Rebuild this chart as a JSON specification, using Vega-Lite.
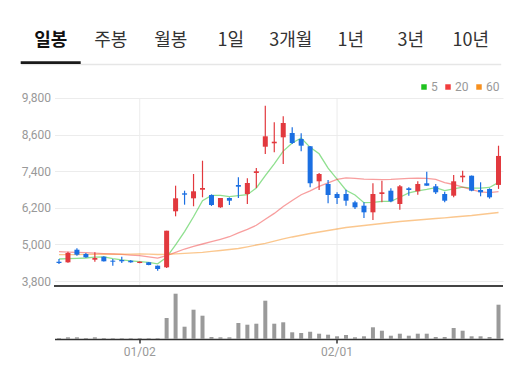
{
  "$schema": "https://vega.github.io/schema/vega-lite/v6.json",
  "background": "white",
  "padding": {"left": 20.5, "top": 20, "right": 0, "bottom": 0},
  "config": {
    "view": {"stroke": null},
    "font": "Roboto",
    "concat": {"spacing": 27}
  },
  "datasets": {
    "tabs": [
      {"tab": "일봉"}, {"tab": "주봉"}, {"tab": "월봉"}, {"tab": "1일"},
      {"tab": "3개월"}, {"tab": "1년"}, {"tab": "3년"}, {"tab": "10년"}
    ],
    "ohlc": [
      {"d":"12/15","o":4432,"h":4521,"l":4357,"c":4390,"v":100000,"ma5":4521,"ma20":4761,"ma60":4662},
      {"d":"12/18","o":4413,"h":4760,"l":4400,"c":4718,"v":170000,"ma5":4532,"ma20":4750,"ma60":4665},
      {"d":"12/19","o":4826,"h":4870,"l":4630,"c":4662,"v":170000,"ma5":4545,"ma20":4740,"ma60":4668},
      {"d":"12/20","o":4685,"h":4720,"l":4560,"c":4577,"v":100000,"ma5":4554,"ma20":4728,"ma60":4670},
      {"d":"12/21","o":4498,"h":4741,"l":4433,"c":4554,"v":170000,"ma5":4580,"ma20":4715,"ma60":4675},
      {"d":"12/22","o":4597,"h":4610,"l":4440,"c":4446,"v":100000,"ma5":4591,"ma20":4700,"ma60":4677},
      {"d":"12/26","o":4466,"h":4521,"l":4302,"c":4433,"v":80000,"ma5":4534,"ma20":4685,"ma60":4680},
      {"d":"12/27","o":4488,"h":4597,"l":4390,"c":4446,"v":80000,"ma5":4491,"ma20":4670,"ma60":4682},
      {"d":"12/28","o":4466,"h":4490,"l":4400,"c":4413,"v":80000,"ma5":4458,"ma20":4650,"ma60":4684},
      {"d":"01/02","o":4390,"h":4440,"l":4380,"c":4433,"v":100000,"ma5":4434,"ma20":4630,"ma60":4685},
      {"d":"01/03","o":4413,"h":4420,"l":4320,"c":4325,"v":80000,"ma5":4410,"ma20":4590,"ma60":4680},
      {"d":"01/04","o":4302,"h":4310,"l":4138,"c":4193,"v":80000,"ma5":4362,"ma20":4550,"ma60":4669},
      {"d":"01/05","o":4249,"h":5449,"l":4230,"c":5449,"v":2100000,"ma5":4580,"ma20":4630,"ma60":4675},
      {"d":"01/08","o":6085,"h":6925,"l":5921,"c":6511,"v":4530000,"ma5":4982,"ma20":4741,"ma60":4690},
      {"d":"01/09","o":6675,"h":6761,"l":6302,"c":6630,"v":1230000,"ma5":5422,"ma20":4849,"ma60":4708},
      {"d":"01/10","o":6511,"h":7308,"l":6250,"c":6741,"v":2930000,"ma5":5905,"ma20":4938,"ma60":4725},
      {"d":"01/11","o":6793,"h":7744,"l":6544,"c":6849,"v":2330000,"ma5":6436,"ma20":5013,"ma60":4741},
      {"d":"01/12","o":6620,"h":6640,"l":6260,"c":6292,"v":200000,"ma5":6605,"ma20":5088,"ma60":4770},
      {"d":"01/15","o":6216,"h":6521,"l":6200,"c":6521,"v":170000,"ma5":6607,"ma20":5167,"ma60":4800},
      {"d":"01/16","o":6521,"h":6540,"l":6292,"c":6433,"v":170000,"ma5":6567,"ma20":5251,"ma60":4833},
      {"d":"01/17","o":6948,"h":7200,"l":6521,"c":6892,"v":1600000,"ma5":6597,"ma20":5376,"ma60":4866},
      {"d":"01/18","o":6652,"h":7167,"l":6325,"c":7013,"v":1430000,"ma5":6630,"ma20":5491,"ma60":4920},
      {"d":"01/19","o":7341,"h":7505,"l":6849,"c":7397,"v":1530000,"ma5":6851,"ma20":5627,"ma60":4980},
      {"d":"01/22","o":8203,"h":9548,"l":7964,"c":8544,"v":3830000,"ma5":7256,"ma20":5826,"ma60":5030},
      {"d":"01/23","o":8315,"h":9003,"l":8020,"c":8367,"v":1530000,"ma5":7643,"ma20":6016,"ma60":5111},
      {"d":"01/24","o":8511,"h":9200,"l":7636,"c":8980,"v":1670000,"ma5":8060,"ma20":6243,"ma60":5178},
      {"d":"01/25","o":8652,"h":8839,"l":8292,"c":8325,"v":670000,"ma5":8323,"ma20":6438,"ma60":5243},
      {"d":"01/26","o":8456,"h":8643,"l":8052,"c":8236,"v":600000,"ma5":8490,"ma20":6627,"ma60":5300},
      {"d":"01/29","o":8216,"h":8230,"l":6872,"c":7003,"v":730000,"ma5":8182,"ma20":6757,"ma60":5357},
      {"d":"01/30","o":7069,"h":7341,"l":6784,"c":7308,"v":530000,"ma5":7970,"ma20":6900,"ma60":5407},
      {"d":"01/31","o":6980,"h":7111,"l":6348,"c":6620,"v":430000,"ma5":7498,"ma20":7015,"ma60":5456},
      {"d":"02/01","o":6652,"h":6708,"l":6325,"c":6521,"v":270000,"ma5":7138,"ma20":7132,"ma60":5505},
      {"d":"02/02","o":6652,"h":6793,"l":6269,"c":6433,"v":400000,"ma5":6777,"ma20":7181,"ma60":5554},
      {"d":"02/05","o":6380,"h":6433,"l":6161,"c":6216,"v":170000,"ma5":6620,"ma20":7166,"ma60":5587},
      {"d":"02/06","o":6269,"h":6380,"l":5866,"c":6052,"v":270000,"ma5":6368,"ma20":7137,"ma60":5620},
      {"d":"02/07","o":6052,"h":7003,"l":5800,"c":6652,"v":1170000,"ma5":6375,"ma20":7133,"ma60":5652},
      {"d":"02/08","o":6652,"h":7089,"l":6380,"c":6708,"v":830000,"ma5":6412,"ma20":7126,"ma60":5685},
      {"d":"02/13","o":6761,"h":6839,"l":6380,"c":6413,"v":330000,"ma5":6408,"ma20":7132,"ma60":5718},
      {"d":"02/14","o":6325,"h":6948,"l":6138,"c":6905,"v":530000,"ma5":6546,"ma20":7151,"ma60":5751},
      {"d":"02/15","o":6839,"h":6872,"l":6597,"c":6784,"v":330000,"ma5":6692,"ma20":7168,"ma60":5775},
      {"d":"02/16","o":6741,"h":7069,"l":6630,"c":6980,"v":530000,"ma5":6758,"ma20":7173,"ma60":5800},
      {"d":"02/19","o":7003,"h":7384,"l":6925,"c":6925,"v":530000,"ma5":6801,"ma20":7168,"ma60":5825},
      {"d":"02/20","o":6905,"h":6980,"l":6652,"c":6708,"v":200000,"ma5":6860,"ma20":7134,"ma60":5849},
      {"d":"02/21","o":6652,"h":6728,"l":6380,"c":6433,"v":200000,"ma5":6766,"ma20":7028,"ma60":5873},
      {"d":"02/22","o":6597,"h":7275,"l":6544,"c":7069,"v":1100000,"ma5":6823,"ma20":6964,"ma60":5898},
      {"d":"02/23","o":7200,"h":7416,"l":7036,"c":7252,"v":830000,"ma5":6877,"ma20":6877,"ma60":5923},
      {"d":"02/26","o":7252,"h":7260,"l":6740,"c":6761,"v":270000,"ma5":6845,"ma20":6799,"ma60":5948},
      {"d":"02/27","o":6784,"h":7036,"l":6577,"c":6708,"v":270000,"ma5":6845,"ma20":6723,"ma60":5980},
      {"d":"02/28","o":6816,"h":6839,"l":6500,"c":6544,"v":200000,"ma5":6867,"ma20":6700,"ma60":6013},
      {"d":"02/29","o":6950,"h":8236,"l":6820,"c":7900,"v":3430000,"ma5":7033,"ma20":6729,"ma60":6046}
    ]
  },
  "vconcat": [
    {
      "width": 446,
      "height": 44,
      "data": {"name": "tabs"},
      "encoding": {
        "x": {
          "field": "tab", "type": "nominal",
          "scale": {"type": "band", "paddingInner": 0, "paddingOuter": 0, "range": [-33.8, 446.2],
                    "domain": ["일봉", "주봉", "월봉", "1일", "3개월", "1년", "3년", "10년"]},
          "axis": {"orient": "bottom", "labels": false, "ticks": false, "title": null, "grid": false,
                   "domain": true, "domainColor": "#e6e6e6", "domainWidth": 1.5}
        }
      },
      "layer": [
        {
          "transform": [{"filter": "datum.tab != '일봉'"}],
          "mark": {"type": "text", "font": "Noto Sans CJK KR", "fontSize": 18, "color": "#333333", "baseline": "middle"},
          "encoding": {
            "text": {"field": "tab"},
            "y": {"datum": 0.523, "type": "quantitative", "scale": {"domain": [0, 1]}, "axis": null}
          }
        },
        {
          "transform": [{"filter": "datum.tab == '일봉'"}],
          "mark": {"type": "text", "font": "Noto Sans CJK KR", "fontSize": 18, "fontWeight": "bold", "color": "#111111", "baseline": "middle"},
          "encoding": {
            "text": {"field": "tab"},
            "y": {"datum": 0.523, "type": "quantitative", "axis": null}
          }
        },
        {
          "transform": [{"filter": "datum.tab == '일봉'"}],
          "mark": {"type": "bar", "color": "#1a1a1a"},
          "encoding": {
            "y": {"datum": 0, "type": "quantitative", "axis": null},
            "y2": {"datum": 0.062}
          }
        }
      ]
    },
    {
      "width": 448.5,
      "height": 248,
      "data": {"name": "ohlc"},
      "layer": [
        {
          "encoding": {
            "x": {
              "field": "d", "type": "ordinal",
              "scale": {"type": "band", "paddingInner": 0, "paddingOuter": 0,
                        "domain": ["12/15","12/18","12/19","12/20","12/21","12/22","12/26","12/27","12/28","01/02","01/03","01/04","01/05","01/08","01/09","01/10","01/11","01/12","01/15","01/16","01/17","01/18","01/19","01/22","01/23","01/24","01/25","01/26","01/29","01/30","01/31","02/01","02/02","02/05","02/06","02/07","02/08","02/13","02/14","02/15","02/16","02/19","02/20","02/21","02/22","02/23","02/26","02/27","02/28","02/29"]},
              "axis": {"values": ["01/02", "02/01"], "title": null, "labelAngle": 0, "labelColor": "#999999",
                       "labelFontSize": 12, "labelFont": "Roboto", "labelPadding": 3, "tickColor": "#333333",
                       "tickSize": 4, "tickWidth": 1.5, "domainColor": "#333333", "domainWidth": 1.5,
                       "grid": false, "bandPosition": 0.5}
            }
          },
          "layer": [
            {
              "transform": [{"filter": "datum.d == '01/02' || datum.d == '02/01'"}],
              "mark": {"type": "rule", "color": "#ececec", "strokeWidth": 1},
              "encoding": {
                "y": {"datum": 3636, "type": "quantitative",
                      "scale": {"domain": [1898.4, 10029.5], "nice": false, "zero": false},
                      "axis": {"values": [3800, 5000, 6200, 7400, 8600, 9800], "labelExpr": "format(datum.value, ',')", "title": null,
                               "labelColor": "#999999", "labelFontSize": 12, "labelFont": "Roboto",
                               "labelPadding": 4, "ticks": false, "domain": false, "grid": true,
                               "gridColor": "#ececec", "gridWidth": 1}},
                "y2": {"datum": 9800}
              }
            },
            {
              "transform": [{"fold": ["ma5", "ma20", "ma60"], "as": ["ma", "val"]}],
              "mark": {"type": "line", "strokeWidth": 1.3, "opacity": 0.5},
              "encoding": {
                "y": {"field": "val", "type": "quantitative",
                      "axis": {"values": [3800, 5000, 6200, 7400, 8600, 9800], "labelExpr": "format(datum.value, ',')", "title": null,
                               "labelColor": "#999999", "labelFontSize": 12, "labelFont": "Roboto",
                               "labelPadding": 4, "ticks": false, "domain": false, "grid": true,
                               "gridColor": "#ececec", "gridWidth": 1}},
                "color": {
                  "field": "ma", "type": "nominal",
                  "scale": {"domain": ["ma5", "ma20", "ma60"], "range": ["#1fc21f", "#f23d3d", "#f7901e"]},
                  "legend": {
                    "orient": "none", "legendX": 363.5, "legendY": 61, "direction": "horizontal",
                    "title": null, "padding": 0, "symbolType": "square", "symbolSize": 30,
                    "symbolStrokeWidth": 0, "symbolOpacity": 1,
                    "labelExpr": "replace(datum.label, 'ma', '')",
                    "labelColor": "#999999", "labelFontSize": 12, "labelFont": "Roboto",
                    "labelOffset": 1, "columnPadding": 4,
                    "encode": {"symbols": {"update": {"fill": {"scale": "color", "field": "value"}}}}
                  }
                }
              }
            },
            {
              "mark": {"type": "rule", "strokeWidth": 1.2},
              "encoding": {
                "y": {"field": "l", "type": "quantitative",
                      "axis": {"values": [3800, 5000, 6200, 7400, 8600, 9800], "labelExpr": "format(datum.value, ',')", "title": null,
                               "labelColor": "#999999", "labelFontSize": 12, "labelFont": "Roboto",
                               "labelPadding": 4, "ticks": false, "domain": false, "grid": true,
                               "gridColor": "#ececec", "gridWidth": 1}},
                "y2": {"field": "h"},
                "color": {"condition": {"test": "datum.c >= datum.o", "value": "#e2393e"}, "value": "#1b6fe2"}
              }
            },
            {
              "mark": {"type": "bar", "width": 5},
              "encoding": {
                "y": {"field": "o", "type": "quantitative",
                      "axis": {"values": [3800, 5000, 6200, 7400, 8600, 9800], "labelExpr": "format(datum.value, ',')", "title": null,
                               "labelColor": "#999999", "labelFontSize": 12, "labelFont": "Roboto",
                               "labelPadding": 4, "ticks": false, "domain": false, "grid": true,
                               "gridColor": "#ececec", "gridWidth": 1}},
                "y2": {"field": "c"},
                "color": {"condition": {"test": "datum.c >= datum.o", "value": "#e2393e"}, "value": "#1b6fe2"}
              }
            }
          ]
        },
        {
          "mark": {"type": "bar", "width": 4, "color": "#9a9a9a"},
          "encoding": {
            "x": {
              "field": "d", "type": "ordinal",
              "scale": {"type": "band", "paddingInner": 0, "paddingOuter": 0,
                        "domain": ["12/15","12/18","12/19","12/20","12/21","12/22","12/26","12/27","12/28","01/02","01/03","01/04","01/05","01/08","01/09","01/10","01/11","01/12","01/15","01/16","01/17","01/18","01/19","01/22","01/23","01/24","01/25","01/26","01/29","01/30","01/31","02/01","02/02","02/05","02/06","02/07","02/08","02/13","02/14","02/15","02/16","02/19","02/20","02/21","02/22","02/23","02/26","02/27","02/28","02/29"]},
              "axis": {"values": ["01/02", "02/01"], "title": null, "labelAngle": 0, "labelColor": "#999999",
                       "labelFontSize": 12, "labelFont": "Roboto", "labelPadding": 3, "tickColor": "#333333",
                       "tickSize": 4, "tickWidth": 1.5, "domainColor": "#333333", "domainWidth": 1.5,
                       "grid": false, "bandPosition": 0.5}
            },
            "y": {"field": "v", "type": "quantitative", "scale": {"domain": [0, 24800000], "nice": false}, "axis": null}
          }
        },
        {
          "mark": {"type": "rule", "color": "#444444", "strokeWidth": 2},
          "encoding": {
            "y": {"datum": 3636, "type": "quantitative",
                  "scale": {"domain": [1898.4, 10029.5], "nice": false, "zero": false}, "axis": null}
          }
        }
      ],
      "resolve": {"scale": {"y": "independent"}}
    }
  ]
}
